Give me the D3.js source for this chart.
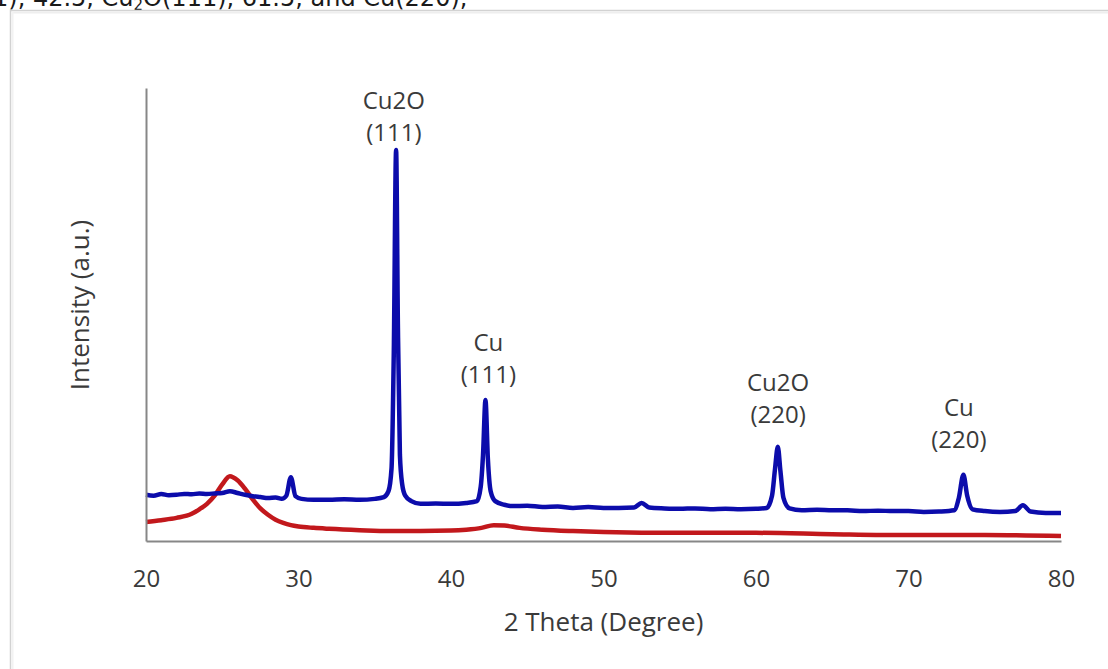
<!DOCTYPE html>
<html>
<head>
<meta charset="utf-8">
<script src="https://cdn.jsdelivr.net/npm/d3@7"></script>
<style>
  body { margin: 0; background: #fff; }
  svg { display: block; }
  .tick-label, .axis-title, .peak-label { font-family: 'Open Sans', sans-serif; fill: #3a3a3a; }
</style>
</head>
<body>
<div id="chart"></div>
<script>
// 2-theta positions (degree) and intensities (a.u.)
const blueTheta = [
  20, 20.5, 21, 21.5, 22, 22.5, 23, 23.5, 24, 24.5, 25, 25.5, 26, 26.5, 27, 27.5, 28, 28.5, 28.9,
  29.2, 29.5, 29.8, 30.2, 31, 32, 33, 34, 35, 35.6, 35.9, 36.1, 36.25, 36.4, 36.52, 36.65, 36.8,
  37, 37.4, 38, 39, 40, 41, 41.7, 41.95, 42.1, 42.26, 42.42, 42.6, 42.9, 43.5, 44, 45, 46, 47,
  48, 49, 50, 51, 52, 52.5, 53, 54, 55, 56, 57, 58, 59, 60, 60.7, 61.05, 61.25, 61.43, 61.6,
  61.8, 62.2, 63, 64, 65, 66, 67, 68, 69, 70, 71, 72, 73, 73.3, 73.6, 73.85, 74.2, 75, 76, 77,
  77.5, 78, 79, 80
];
const blueIntensity = [
  102, 100, 104, 101, 102, 104, 103, 105, 104, 105, 106, 110, 106, 102, 99, 97, 95, 96, 93,
  100, 141, 99, 93, 91, 91, 92, 91, 93, 97, 110, 160, 420, 863, 470, 190, 125,
  100, 88, 82, 83, 82, 84, 88, 120, 190, 311, 180, 110, 88, 80, 77, 78, 75, 76,
  73, 75, 73, 73, 74, 84, 74, 72, 71, 72, 70, 71, 70, 71, 73, 100, 160, 208, 155,
  95, 72, 68, 69, 68, 68, 66, 67, 66, 66, 64, 65, 68, 95, 146, 100, 70, 66, 64, 66,
  79, 65, 62, 62
];

const redTheta = [
  20, 21, 22, 23, 23.5, 24, 24.5, 25, 25.5, 26, 26.5, 27, 27.5, 28, 28.5, 29, 29.5, 30, 31, 32,
  34, 36, 38, 40, 41, 42, 42.8, 43.5, 44.5, 46, 48, 50, 55, 60, 65, 70, 75, 80
];
const redIntensity = [
  42, 46, 51, 60, 70, 82, 100, 125, 143, 134, 115, 92, 72, 58, 47, 40, 35, 32, 29, 27,
  24, 22, 22, 23, 25, 29, 35, 34, 29, 25, 22, 20, 18, 18, 15, 13, 13, 11
];

const xTicks = [20, 30, 40, 50, 60, 70, 80];

const peakLabels = [
  { theta: 36.25, intensity: 883, name: 'Cu2O', plane: '(111)' },
  { theta: 42.45, intensity: 349, name: 'Cu', plane: '(111)' },
  { theta: 61.45, intensity: 260, name: 'Cu2O', plane: '(220)' },
  { theta: 73.3, intensity: 205, name: 'Cu', plane: '(220)' }
];

const width = 1108;
const height = 669;
const plot = { left: 146, right: 1061, top: 88, bottom: 541 };

const svg = d3.select('#chart').append('svg')
  .attr('width', width)
  .attr('height', height);

svg.append('rect').attr('width', width).attr('height', height).attr('fill', '#fff');

// cropped caption line from the page above the figure
const caption = svg.append('text')
  .attr('x', -7)
  .attr('y', 6)
  .style('font-family', 'DejaVu Sans, Verdana, sans-serif')
  .style('font-size', '24px')
  .style('fill', '#1a1a1a');
caption.append('tspan').text('1), 42.5, Cu');
caption.append('tspan').attr('font-size', '15px').attr('dy', 4).text('2');
caption.append('tspan').attr('dy', -4).text('O(111), 61.5, and Cu(220),');

// figure frame
svg.append('rect')
  .attr('x', 10.5).attr('y', 10.5)
  .attr('width', 1130).attr('height', 700)
  .attr('fill', '#fff')
  .attr('stroke', '#d2d2d2')
  .attr('stroke-width', 1.5);
svg.append('line')
  .attr('x1', 12).attr('x2', width).attr('y1', 12.5).attr('y2', 12.5)
  .attr('stroke', '#eeeeee').attr('stroke-width', 2);
svg.append('line')
  .attr('x1', 12.5).attr('x2', 12.5).attr('y1', 12).attr('y2', height)
  .attr('stroke', '#f2f2f2').attr('stroke-width', 2);

const x = d3.scaleLinear().domain([20, 80]).range([plot.left, plot.right]);
const y = d3.scaleLinear().domain([0, 1000]).range([plot.bottom, plot.top]);

const line = d3.line()
  .x(d => x(d[0]))
  .y(d => y(d[1]))
  .curve(d3.curveMonotoneX);

svg.append('path')
  .datum(d3.zip(redTheta, redIntensity))
  .attr('d', line)
  .attr('fill', 'none')
  .attr('stroke', '#c2181c')
  .attr('stroke-width', 4.5)
  .attr('stroke-linejoin', 'round');

svg.append('path')
  .datum(d3.zip(blueTheta, blueIntensity))
  .attr('d', line)
  .attr('fill', 'none')
  .attr('stroke', '#0c0cab')
  .attr('stroke-width', 4.5)
  .attr('stroke-linejoin', 'round');

// axes: plain gray lines, no tick marks
const xAxis = svg.append('g')
  .attr('transform', `translate(0,${plot.bottom})`)
  .call(d3.axisBottom(x).tickValues(xTicks).tickSize(0).tickSizeOuter(0).tickPadding(29));
xAxis.select('.domain').attr('stroke', '#878787').attr('stroke-width', 2);
xAxis.selectAll('text')
  .attr('class', 'tick-label')
  .style('font-size', '24px');

const yAxis = svg.append('g')
  .attr('transform', `translate(${plot.left},0)`)
  .call(d3.axisLeft(y).tickValues([]).tickSizeOuter(0));
yAxis.select('.domain').attr('stroke', '#878787').attr('stroke-width', 2);

svg.append('text')
  .attr('class', 'axis-title')
  .attr('x', (plot.left + plot.right) / 2)
  .attr('y', 631)
  .attr('text-anchor', 'middle')
  .style('font-size', '26px')
  .text('2 Theta (Degree)');

svg.append('text')
  .attr('class', 'axis-title')
  .attr('transform', 'translate(89,305) rotate(-90)')
  .attr('text-anchor', 'middle')
  .style('font-size', '26px')
  .text('Intensity (a.u.)');

// peak annotations
const labels = svg.selectAll('.peak-label')
  .data(peakLabels)
  .join('text')
  .attr('class', 'peak-label')
  .attr('text-anchor', 'middle')
  .style('font-size', '24px')
  .attr('transform', d => `translate(${x(d.theta)},${y(d.intensity)})`);
labels.append('tspan').attr('x', 0).attr('y', -32).text(d => d.name);
labels.append('tspan').attr('x', 0).attr('y', 0).text(d => d.plane);
</script>
</body>
</html>
